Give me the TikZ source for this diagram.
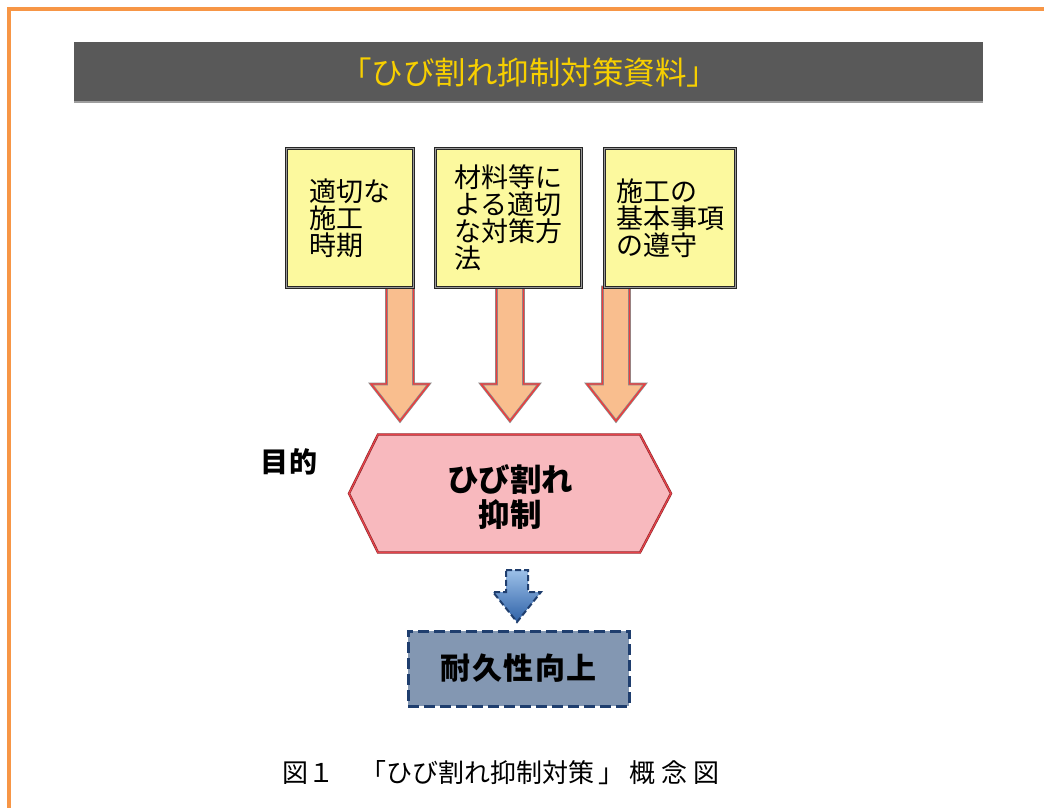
\documentclass[tikz,border=0pt]{standalone}
\usepackage{fontspec}
\setmainfont{Noto Sans CJK JP}
\usetikzlibrary{calc}
\definecolor{frameor}{HTML}{F79646}
\definecolor{titlebg}{HTML}{595959}
\definecolor{titlefg}{HTML}{F7CF00}
\definecolor{boxyel}{HTML}{FCF99E}
\definecolor{arrfill}{HTML}{F9BE8E}
\definecolor{arrred}{HTML}{F03C3C}
\definecolor{hexfill}{HTML}{F8B9BE}
\definecolor{hexred}{HTML}{E8424A}
\definecolor{bluebox}{HTML}{8397B2}
\definecolor{bluedark}{HTML}{1F3E6E}
\definecolor{bluetop}{HTML}{9CC0E8}
\definecolor{bluebot}{HTML}{2F62A8}
\tikzset{
  yelbox/.style={draw=black!85, double=black!40, double distance=1.6pt, line width=0.9pt,
    fill=boxyel, minimum width=#1, minimum height=139pt, inner sep=0pt,
    align=left, font=\fontsize{27}{27}\selectfont},
  oarrow/.style={fill=arrfill, draw=black!45, double=arrred, double distance=1.4pt, line width=0.7pt},
  orarrow/.pic={\path[oarrow] (-13.5,0) -- (13.5,0) -- (13.5,97) -- (29,97) -- (0,134)
      -- (-29,97) -- (-13.5,97) -- cycle;},
  hexline/.style={fill=hexfill, draw=black!40!hexred, double=hexred, double distance=1.2pt, line width=0.6pt},
  bluedash/.style={draw=bluedark, line width=3pt, dash pattern=on 11pt off 5pt},
}
\begin{document}
\begin{tikzpicture}[x=1pt,y=-1pt]
\clip (0,0) rectangle (1044,808);
\fill[white] (0,0) rectangle (1044,808);
% frame
\draw[frameor, line width=4pt] (9,820) -- (9,9) -- (1060,9);
% title bar
\fill[titlebg] (74,42) rectangle (983,101);
\fill[black!38] (74,101) rectangle (983,103);
\node[text=titlefg, font=\fontsize{31.5}{32}\selectfont] (title) at (529,73) {「ひび割れ抑制対策資料」};
% arrow anchor coordinates
\coordinate (a1) at (400,287);
\coordinate (a2) at (510,287);
\coordinate (a3) at (616,287);
\pic at (a1) {orarrow};
\pic at (a2) {orarrow};
\pic at (a3) {orarrow};
% yellow boxes
\node[yelbox=127pt] (b1) at (350,218) {適切な\\施工\\時期};
\node[yelbox=146pt] (b2) at (508.5,218) {材料等に\\よる適切\\な対策方\\法};
\node[yelbox=131pt] (b3) at (670,218) {施工の\\基本事項\\の遵守};
% hexagon
\coordinate (hc) at (510,493.5);
\draw[hexline] ($(hc)+(-161,0)$) -- ($(hc)+(-132,-59)$) -- ($(hc)+(130,-59)$) -- ($(hc)+(161,0)$)
  -- ($(hc)+(130,59)$) -- ($(hc)+(-132,59)$) -- cycle;
\node[font=\bfseries\fontsize{31.5}{35}\selectfont, align=center] (hex) at (510,497) {ひび割れ\\抑制};
\node[font=\bfseries\fontsize{28}{30}\selectfont] (goal) at (289,462) {目\hspace{2pt}的};
% blue arrow
\coordinate (ba) at (517,570);
\draw[top color=bluetop, bottom color=bluebot, draw=bluedark, line width=2pt, dash pattern=on 6pt off 3pt]
  ($(ba)+(-11,0)$) -- ($(ba)+(11,0)$) -- ($(ba)+(11,22)$) -- ($(ba)+(24,22)$) -- ($(ba)+(0,52)$)
  -- ($(ba)+(-24,22)$) -- ($(ba)+(-11,22)$) -- cycle;
% result box
\node[bluedash, fill=bluebox, minimum width=221pt, minimum height=75pt,
  font=\bfseries\fontsize{30}{32}\selectfont] (res) at (518.5,668.5) {耐\hspace{1.5pt}久\hspace{1.5pt}性\hspace{1.5pt}向\hspace{1.5pt}上};
% caption
\node[anchor=west, inner sep=0pt, font=\fontsize{26}{28}\selectfont] (cap) at (282,773)
  {図１　「ひび割れ抑制対策\hspace{4pt}」\hspace{5pt}概\hspace{6pt}念\hspace{6pt}図};
\end{tikzpicture}
\end{document}
